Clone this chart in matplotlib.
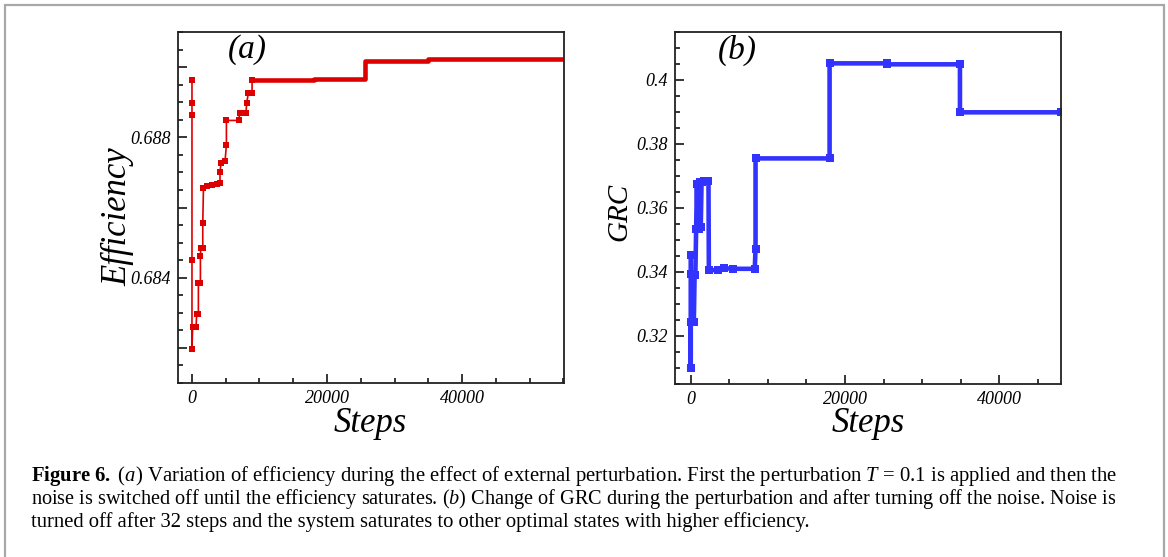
import matplotlib
matplotlib.use("Agg")
import matplotlib.pyplot as plt
from matplotlib.ticker import MultipleLocator, FixedLocator, FuncFormatter
from matplotlib.patches import Rectangle

# ---------------- data ----------------
# (a) efficiency: perturbation / relaxation phase
pert_steps = [0, 0, 0, 0, 0, 100, 600, 700, 950, 950, 1250, 1250, 1300, 1600, 1600,
              1700, 2200, 2900, 3650, 4150, 4150, 4300, 4900, 5100, 5100, 6900, 7100,
              8000, 8100, 8350, 8900, 8900]
pert_eff = [0.68962, 0.68898, 0.68863, 0.68450, 0.68198, 0.68259, 0.68259, 0.68296,
            0.68296, 0.68386, 0.68386, 0.68461, 0.68485, 0.68485, 0.68556, 0.68656,
            0.68661, 0.68665, 0.68667, 0.68670, 0.68700, 0.68727, 0.68732, 0.68779,
            0.68848, 0.68848, 0.68869, 0.68869, 0.68898, 0.68926, 0.68926, 0.68962]
# (a) efficiency: saturation phase
sat_steps = [8900, 18000, 18000, 25600, 25600, 35000, 35000, 55000]
sat_eff = [0.68962, 0.68962, 0.68965, 0.68965, 0.69016, 0.69016, 0.69023, 0.69023]

# (b) GRC
grc_steps = [0, 0, 0, 0, 0, 400, 500, 600, 700, 800, 900, 1000, 1100, 1200, 1300,
             1400, 1700, 2300, 2350, 3500, 4300, 5500, 8300, 8400, 8400, 18000, 18000,
             25400, 25400, 34900, 34900, 48000]
grc_vals = [0.3452, 0.3395, 0.3244, 0.3099, 0.3244, 0.3244, 0.3390, 0.3390, 0.3535,
            0.3675, 0.3535, 0.3675, 0.3535, 0.3680, 0.3540, 0.3680, 0.3683, 0.3683,
            0.3405, 0.3407, 0.3412, 0.3410, 0.3410, 0.3473, 0.3755, 0.3755, 0.4052,
            0.4052, 0.4049, 0.4049, 0.3899, 0.3899]

x_ticks = [0, 20000, 40000]
eff_labelled = [0.684, 0.688]
eff_major = [0.682, 0.684, 0.686, 0.688, 0.690]
grc_ticks = [0.32, 0.34, 0.36, 0.38, 0.40]

caption_lines = [
    r"$\mathbf{Figure\ 6.}$ ($\mathit{a}$) Variation of efficiency during the effect of external perturbation. First the perturbation $\mathit{T}$ = 0.1 is applied and then the",
    r"noise is switched off until the efficiency saturates. ($\mathit{b}$) Change of GRC during the perturbation and after turning off the noise. Noise is",
    "turned off after 32 steps and the system saturates to other optimal states with higher efficiency.",
]

# ---------------- style ----------------
plt.rcParams["font.family"] = ["Liberation Serif", "DejaVu Serif"]
plt.rcParams["mathtext.fontset"] = "custom"
plt.rcParams["mathtext.rm"] = "Liberation Serif:style=normal"
plt.rcParams["mathtext.it"] = "Liberation Serif:style=italic"
plt.rcParams["mathtext.bf"] = "Liberation Serif:style=normal:weight=bold"

RED = "#dd0000"
BLUE = "#3333ff"
W, H = 1168, 557

fig = plt.figure(figsize=(W / 100, H / 100), dpi=100)


def rect(l, t, r, b):
    return [l / W, 1 - b / H, (r - l) / W, (b - t) / H]


axA = fig.add_axes(rect(178, 32, 564, 383))
axB = fig.add_axes(rect(675, 32, 1061, 384))

axA.plot(pert_steps, pert_eff, color=RED, lw=1.2, marker="s", ms=4.4, mew=0)
axA.plot(sat_steps, sat_eff, color=RED, lw=3.3, solid_capstyle="butt")
axB.plot(grc_steps, grc_vals, color=BLUE, lw=3.3, marker="s", ms=5.5, mew=0,
         solid_joinstyle="miter")

axA.set_xlim(-2070, 55100)
axA.set_ylim(0.681, 0.691)
axB.set_xlim(-2040, 48000)
axB.set_ylim(0.305, 0.415)

for ax in (axA, axB):
    ax.xaxis.set_major_locator(FixedLocator(x_ticks))
    ax.xaxis.set_minor_locator(MultipleLocator(5000))
    ax.xaxis.set_major_formatter(FuncFormatter(lambda v, p: "%d" % v))
    ax.tick_params(which="both", direction="in", top=False, right=False,
                   labelsize=13, width=1.1)
    ax.tick_params(which="major", length=6.5, pad=5)
    ax.tick_params(which="minor", length=3.5)
    for s in ax.spines.values():
        s.set_linewidth(1.3)
        s.set_color("#222222")

axA.yaxis.set_major_locator(FixedLocator(eff_major))
axA.yaxis.set_minor_locator(MultipleLocator(0.0005))
axA.yaxis.set_major_formatter(FuncFormatter(
    lambda v, p: ("%.3f" % v) if any(abs(v - e) < 1e-6 for e in eff_labelled) else ""))
axB.yaxis.set_major_locator(FixedLocator(grc_ticks))
axB.yaxis.set_minor_locator(MultipleLocator(0.005))
axB.yaxis.set_major_formatter(FuncFormatter(lambda v, p: ("%.2f" % v).rstrip("0")))

fig.canvas.draw()
for ax in (axA, axB):
    for lbl in ax.get_xticklabels() + ax.get_yticklabels():
        lbl.set_fontstyle("italic")

# axis labels and panel tags
axA.text(-0.155, 0.475, "Efficiency", transform=axA.transAxes, rotation=90,
         ha="center", va="center", fontsize=25, fontstyle="italic")
axB.text(-0.143, 0.49, "GRC", transform=axB.transAxes, rotation=90,
         ha="center", va="center", fontsize=21, fontstyle="italic")
axA.text(0.497, -0.14, "Steps", transform=axA.transAxes, ha="center",
         va="baseline", fontsize=25, fontstyle="italic")
axB.text(0.50, -0.137, "Steps", transform=axB.transAxes, ha="center",
         va="baseline", fontsize=25, fontstyle="italic")
axA.text(0.179, 0.949, "(a)", transform=axA.transAxes, ha="center", va="center",
         fontsize=24, fontstyle="italic")
axB.text(0.161, 0.949, "(b)", transform=axB.transAxes, ha="center", va="center",
         fontsize=24, fontstyle="italic")

# caption: each line sized to span the same width as in the reference
baselines = [481, 504, 527]
line_widths_px = [1086, 1081, 780]
renderer = fig.canvas.get_renderer()
for line, yb, wpx in zip(caption_lines, baselines, line_widths_px):
    t = fig.text(31 / W, 1 - yb / H, line, fontsize=12, fontstyle="normal",
                 ha="left", va="baseline")
    w0 = t.get_window_extent(renderer).width
    t.set_fontsize(12 * wpx / w0)

# outer frame
fig.add_artist(Rectangle((5 / W, -0.05), (1164 - 5) / W, 1.05 - 5 / H,
                         transform=fig.transFigure, fill=False,
                         edgecolor="#a8a8a8", lw=1.6))

fig.savefig("out.png", dpi=100)
